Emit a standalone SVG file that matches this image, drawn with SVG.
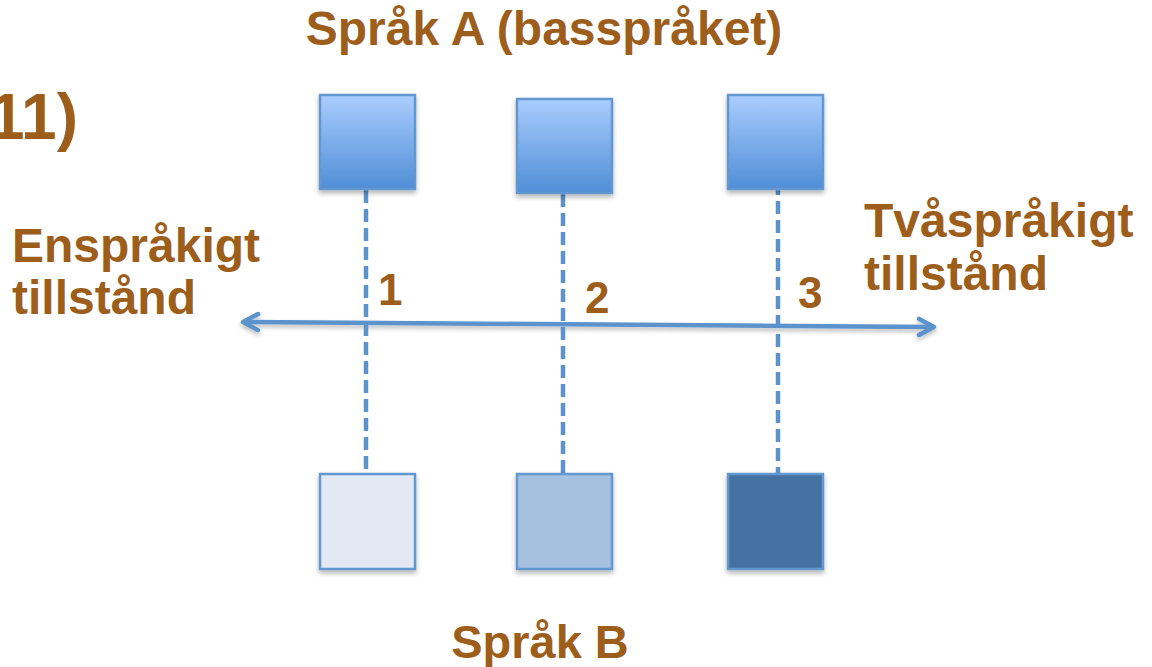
<svg xmlns="http://www.w3.org/2000/svg" width="1152" height="667" viewBox="0 0 1152 667">
<defs>
<linearGradient id="gA" x1="0" y1="0" x2="0" y2="1">
<stop offset="0" stop-color="#AACDFE"/>
<stop offset="1" stop-color="#4F8ED6"/>
</linearGradient>
<filter id="sh" x="-20%" y="-20%" width="140%" height="140%">
<feDropShadow dx="0" dy="3" stdDeviation="2.5" flood-color="#000" flood-opacity="0.3"/>
</filter>
<filter id="shl" filterUnits="userSpaceOnUse" x="200" y="290" width="780" height="70">
<feDropShadow dx="0" dy="3" stdDeviation="2" flood-color="#000" flood-opacity="0.25"/>
</filter>
<marker id="arr" viewBox="0 0 22 22" refX="19" refY="11" markerWidth="22" markerHeight="22" markerUnits="userSpaceOnUse" orient="auto-start-reverse">
<path d="M4,3 L19,11 L4,19" fill="none" stroke="#5C93CC" stroke-width="4.5" stroke-linecap="round" stroke-linejoin="round"/>
</marker>
<style>
.t{font-family:"Liberation Sans",Arial,sans-serif;font-weight:bold;fill:#9C5E1A}
.box{stroke:#6497CF;stroke-width:2.5;filter:url(#sh)}
.dash{stroke:#5C93CC;stroke-width:4.5;stroke-dasharray:13 6;fill:none}
</style>
</defs>
<text class="t" x="544" y="45" font-size="48" text-anchor="middle">Språk A (basspråket)</text>
<text class="t" x="78" y="139" font-size="64" text-anchor="end">11)</text>
<text class="t" x="12" y="262" font-size="48">Enspråkigt</text>
<text class="t" x="12" y="314" font-size="48">tillstånd</text>
<text class="t" x="864" y="237" font-size="48">Tvåspråkigt</text>
<text class="t" x="864" y="290" font-size="48">tillstånd</text>
<text class="t" x="540" y="658" font-size="47" text-anchor="middle">Språk B</text>
<g id="connectors">
<line x1="243" y1="322" x2="934" y2="327" stroke="#5C93CC" stroke-width="4.5" marker-start="url(#arr)" marker-end="url(#arr)" filter="url(#shl)"/>
<line class="dash" x1="366" y1="190" x2="366" y2="474"/>
<line class="dash" x1="563" y1="194" x2="563" y2="474"/>
<line class="dash" x1="778" y1="182" x2="778" y2="474"/>
<text class="t" x="378" y="305" font-size="44">1</text>
<text class="t" x="585" y="313" font-size="44">2</text>
<text class="t" x="798" y="308" font-size="44">3</text>
</g>
<g id="a1"><rect class="box" x="320" y="95" width="95" height="94" fill="url(#gA)"/></g>
<g id="a2"><rect class="box" x="517" y="99" width="95" height="94" fill="url(#gA)"/></g>
<g id="a3"><rect class="box" x="728" y="95" width="95" height="94" fill="url(#gA)"/></g>
<g id="b1"><rect class="box" x="320" y="474" width="95" height="95" fill="#E2E9F4"/></g>
<g id="b2"><rect class="box" x="517" y="474" width="95" height="95" fill="#A6C0E0"/></g>
<g id="b3"><rect class="box" x="728" y="474" width="95" height="95" fill="#4472A3"/></g>
</svg>
